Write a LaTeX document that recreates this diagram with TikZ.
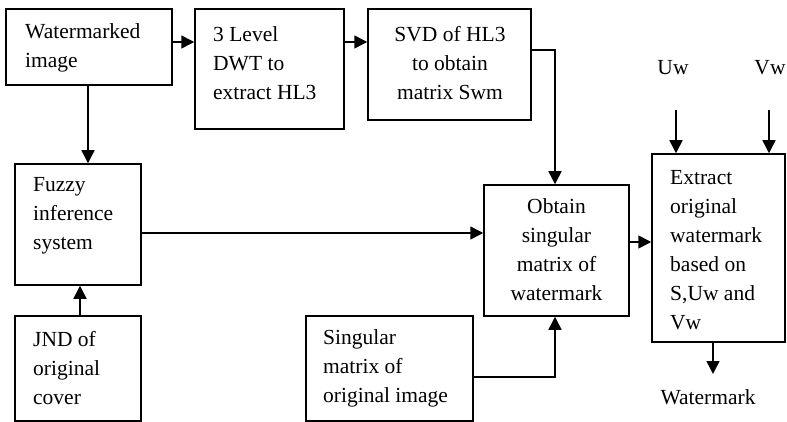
\documentclass[tikz,border=0pt]{standalone}
\usepackage{fontspec}
\setmainfont{Liberation Serif}
\usetikzlibrary{arrows.meta}
\begin{document}
\begin{tikzpicture}[x=1pt,y=-1pt,
  box/.style={draw, line width=1.5pt, rectangle, inner sep=0pt},
  txt/.style={inner sep=0pt, align=left, font=\fontsize{21.5}{29}\selectfont},
  ctxt/.style={inner sep=0pt, align=center, font=\fontsize{21.5}{29}\selectfont},
  arr/.style={line width=1.5pt, -{Triangle[length=13pt,width=13pt]}}]
\useasboundingbox (0,0) rectangle (787,422);
% boxes
\node[box, minimum width=166pt, minimum height=76pt] (wm) at (89,47) {};
\node[box, minimum width=149pt, minimum height=120pt] (dwt) at (269.5,69) {};
\node[box, minimum width=163pt, minimum height=111pt] (svd) at (449.5,64.5) {};
\node[box, minimum width=126pt, minimum height=121pt] (fuz) at (78,224.5) {};
\node[box, minimum width=126pt, minimum height=105pt] (jnd) at (78,368.5) {};
\node[box, minimum width=167pt, minimum height=105pt] (sing) at (389.5,368.5) {};
\node[box, minimum width=145pt, minimum height=131pt] (obt) at (556.5,250.5) {};
\node[box, minimum width=133pt, minimum height=188pt] (ext) at (718.5,248) {};
% texts
\node[txt, anchor=west] (wmt) at (25,48) {Watermarked\\image};
\node[txt, anchor=west] (dwtt) at (213,63) {3 Level\\DWT to\\extract HL3};
\node[ctxt] (svdt) at (450,63) {SVD of HL3\\to obtain\\matrix Swm};
\node[txt, anchor=west] (fuzt) at (33,216) {Fuzzy\\inference\\system};
\node[txt, anchor=west] (jndt) at (33,368) {JND of\\original\\cover};
\node[txt, anchor=west] (singt) at (323,368) {Singular\\matrix of\\original image};
\node[ctxt] (obtt) at (556.5,250) {Obtain\\singular\\matrix of\\watermark};
\node[txt, anchor=west] (extt) at (670,250) {Extract\\original\\watermark\\based on\\S,Uw and\\Vw};
\node[ctxt] (uw) at (673,68) {Uw};
\node[ctxt] (vw) at (770,68) {Vw};
\node[ctxt] (out) at (708,397) {Watermark};
\coordinate (uws) at (676,110);
\coordinate (vws) at (769,110);
\coordinate (outs) at (713,374);
% connectors
\draw[arr] (wm.east |- 0,42) -- (dwt.west |- 0,42);
\draw[arr] (dwt.east |- 0,42) -- (svd.west |- 0,42);
\draw[arr] (svd.east |- 0,50) -| (obt.north -| 555,0);
\draw[arr] (wm.south -| 88,0) -- (fuz.north -| 88,0);
\draw[arr] (jnd.north -| 80,0) -- (fuz.south -| 80,0);
\draw[arr] (fuz.east |- 0,233) -- (obt.west |- 0,233);
\draw[arr] (sing.east |- 0,377) -| (obt.south -| 555,0);
\draw[arr] (obt.east |- 0,242) -- (ext.west |- 0,242);
\draw[arr] (uws) -- (ext.north -| uws);
\draw[arr] (vws) -- (ext.north -| vws);
\draw[arr] (ext.south -| outs) -- (outs);
\end{tikzpicture}
\end{document}
